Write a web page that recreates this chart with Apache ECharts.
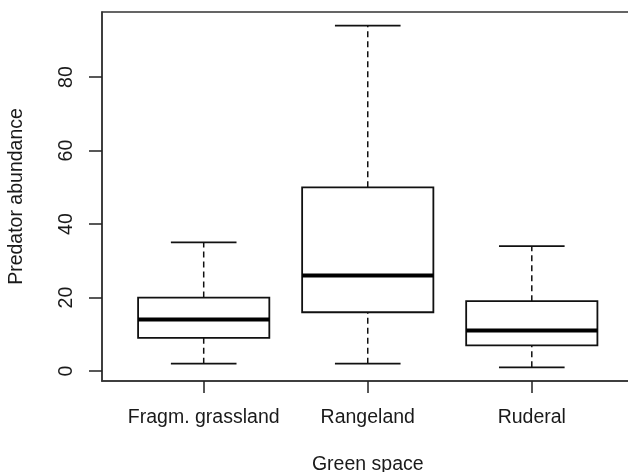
<!DOCTYPE html>
<html>
<head>
<meta charset="utf-8">
<script src="https://cdn.jsdelivr.net/npm/echarts@6/dist/echarts.min.js"></script>
<style>
html,body{margin:0;padding:0;background:#fff;}
#chart{width:628px;height:472px;}
</style>
</head>
<body>
<div id="chart"></div>
<script>
// Data
var categories = ['Fragm. grassland', 'Rangeland', 'Ruderal'];
var lowerWhisker = [2, 2, 1];
var q1 = [9, 16, 7];
var median = [14, 26, 11];
var q3 = [20, 50, 19];
var upperWhisker = [35, 94, 34];
var yTicks = [0, 20, 40, 60, 80];
var xTicks = [1, 2, 3];

var FONT = '"Liberation Sans", Arial, sans-serif';
var TXT = '#1a1a1a';
var INK = '#111';

var data = categories.map(function (c, i) {
  return [i + 1, lowerWhisker[i], q1[i], median[i], q3[i], upperWhisker[i]];
});

function renderItem(params, api) {
  var x = api.value(0);
  var pLo = api.coord([x, api.value(1)]);
  var pQ1 = api.coord([x, api.value(2)]);
  var pMed = api.coord([x, api.value(3)]);
  var pQ3 = api.coord([x, api.value(4)]);
  var pHi = api.coord([x, api.value(5)]);
  var halfBox = api.size([0.8, 0])[0] / 2;
  var halfCap = api.size([0.4, 0])[0] / 2;
  var cx = pMed[0];
  var dashStyle = { stroke: INK, lineWidth: 1.5, lineDash: [6, 4] };
  var solid = { stroke: INK, lineWidth: 1.8 };
  return {
    type: 'group',
    children: [
      { type: 'line', shape: { x1: cx, y1: pQ3[1], x2: cx, y2: pHi[1] }, style: dashStyle },
      { type: 'line', shape: { x1: cx, y1: pLo[1], x2: cx, y2: pQ1[1] }, style: dashStyle },
      { type: 'line', shape: { x1: cx - halfCap, y1: pHi[1], x2: cx + halfCap, y2: pHi[1] }, style: solid },
      { type: 'line', shape: { x1: cx - halfCap, y1: pLo[1], x2: cx + halfCap, y2: pLo[1] }, style: solid },
      { type: 'rect', shape: { x: cx - halfBox, y: pQ3[1], width: halfBox * 2, height: pQ1[1] - pQ3[1] },
        style: { fill: '#fff', stroke: INK, lineWidth: 1.8 } },
      { type: 'line', shape: { x1: cx - halfBox, y1: pMed[1], x2: cx + halfBox, y2: pMed[1] },
        style: { stroke: '#000', lineWidth: 4 } }
    ]
  };
}

var chart = echarts.init(document.getElementById('chart'));
chart.setOption({
  animation: false,
  backgroundColor: '#fff',
  grid: {
    left: 102, top: 12, right: -5.5, bottom: 91,
    containLabel: false, outerBoundsMode: 'none',
    show: true, borderColor: '#333', borderWidth: 1.5, backgroundColor: 'transparent'
  },
  xAxis: {
    type: 'value', min: 0.38, max: 3.62,
    axisLine: { show: true, onZero: false, lineStyle: { color: '#333', width: 1.5 } },
    axisTick: { show: true, customValues: xTicks, length: 12, lineStyle: { color: '#222', width: 1.5 } },
    axisLabel: {
      customValues: xTicks, margin: 26.5, fontSize: 19.5, color: TXT, fontFamily: FONT,
      formatter: function (v) { return categories[Math.round(v) - 1] || ''; }
    },
    splitLine: { show: false },
    name: 'Green space', nameLocation: 'middle', nameGap: 73.5,
    nameTextStyle: { fontSize: 19.5, color: TXT, fontFamily: FONT }
  },
  yAxis: {
    type: 'value', min: -2.72, max: 97.72,
    axisLine: { show: true, onZero: false, lineStyle: { color: '#333', width: 1.5 } },
    axisTick: { show: true, customValues: yTicks, length: 13, lineStyle: { color: '#222', width: 1.5 } },
    axisLabel: {
      customValues: yTicks, rotate: 90, margin: 25, fontSize: 19.5, color: TXT, fontFamily: FONT
    },
    splitLine: { show: false },
    name: 'Predator abundance', nameLocation: 'middle', nameRotate: 90, nameGap: 75,
    nameTextStyle: { fontSize: 19.5, color: TXT, fontFamily: FONT }
  },
  series: [{
    type: 'custom',
    renderItem: renderItem,
    encode: { x: 0, y: [1, 2, 3, 4, 5] },
    data: data,
    clip: false
  }]
});
</script>
</body>
</html>
